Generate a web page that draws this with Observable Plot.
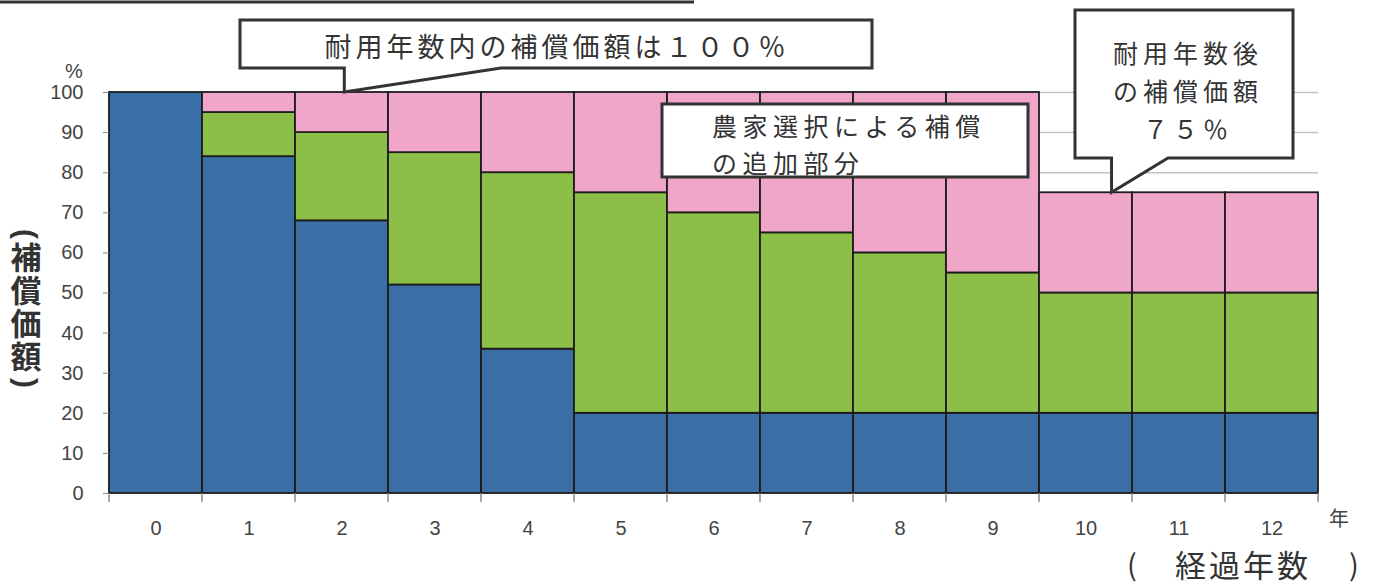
<!DOCTYPE html>
<html><head><meta charset="utf-8">
<script src="https://cdn.jsdelivr.net/npm/d3@7"></script>
<script src="https://cdn.jsdelivr.net/npm/@observablehq/plot@0.6"></script>
<style>
html,body{margin:0;padding:0;background:#fff;}
#wrap{position:relative;width:1375px;height:584px;overflow:hidden;}
#wrap svg{display:block;}
#overlay{position:absolute;left:0;top:0;}
</style>
</head><body>
<div id="wrap"></div>
<script>
// ---- data ----
const years = [0,1,2,3,4,5,6,7,8,9,10,11,12];
const basePart   = [100,84,68,52,36,20,20,20,20,20,20,20,20];
const extraPart  = [0,11,22,33,44,55,50,45,40,35,30,30,30];
const choicePart = [0,5,10,15,20,25,30,35,40,45,25,25,25];
const seriesNames = ["基本補償","時価上乗せ","農家選択による補償の追加部分"];
const seriesColors = ["#3a6ea6","#8cbf47","#f0a6c8"];
const yTicks = [0,10,20,30,40,50,60,70,80,90,100];
const calloutTexts = {
  inLife: "耐用年数内の補償価額は１００％",
  choice: ["農家選択による補償","の追加部分"],
  afterLife: ["耐用年数後","の補償価額","７５％"]
};
const yTitle = "補償価額";
const xTitle = "経過年数";
const xUnit = "年";
const yUnit = "%";

// ---- table ----
const seriesValues = [basePart, extraPart, choicePart];
const rows = [];
years.forEach((yr, i) => {
  seriesValues.forEach((vals, s) => {
    if (vals[i] > 0) rows.push({year: yr, series: seriesNames[s], value: vals[i]});
  });
});

const jp = "'Noto Sans CJK JP','Noto Sans',sans-serif";

const bandTicks = (index, scales, values, dims) => {
  const x = scales.x, y = scales.y;
  const bw = x(years[1]) - x(years[0]);
  const edges = years.map(v => x(v)).concat([x(years[years.length-1]) + bw]);
  const y0 = y(0);
  const g = d3.create("svg:g").attr("stroke","#8a8a8a").attr("stroke-width",1.5);
  edges.forEach(e => g.append("line").attr("x1",e).attr("x2",e).attr("y1",y0).attr("y2",y0+9));
  return g.node();
};

const plot = Plot.plot({
  width: 1375, height: 584,
  marginLeft: 109, marginRight: 57, marginTop: 92, marginBottom: 91,
  x: {type: "band", domain: years, padding: 0, label: null},
  y: {domain: [0, 100], label: null},
  color: {domain: seriesNames, range: seriesColors},
  style: {fontFamily: "'Liberation Sans',Arial,sans-serif", fontSize: "20px", color: "#444", background: "transparent"},
  marks: [
    Plot.gridY(yTicks.filter(t => t > 0), {stroke: "#c2c2c2", strokeOpacity: 1, strokeWidth: 1.5}),
    Plot.barY(rows, {x: "year", y: "value", fill: "series", stroke: "#1c1c1c", strokeWidth: 1.8, order: seriesNames}),
    Plot.axisY(yTicks, {tickSize: 6, tickPadding: 20, stroke: "#8a8a8a", fill: "#444", fontSize: 20, label: null}),
    Plot.axisX({tickSize: 0, tickPadding: 27, fill: "#444", fontSize: 20, label: null}),
    bandTicks
  ]
});
document.getElementById("wrap").appendChild(plot);

// ---- annotations, anchored with the plot's scales ----
const sx = plot.scale("x"), sy = plot.scale("y");
const bw = sx.bandwidth;
const ns = "http://www.w3.org/2000/svg";
const ov = d3.select("#wrap").append("svg").attr("id","overlay")
  .attr("width",1375).attr("height",584).attr("xmlns",ns);

// top frame remnant
ov.append("line").attr("x1",0).attr("x2",694).attr("y1",2).attr("y2",2)
  .attr("stroke","#333").attr("stroke-width",3);

function callout(l, t, r, b, tail) {
  let d = `M${l},${t}H${r}V${b}`;
  if (tail) d += `H${tail.x2}L${tail.tx},${tail.ty}V${b}`;
  d += `H${l}Z`;
  ov.append("path").attr("d", d).attr("fill","#fff").attr("stroke","#333")
    .attr("stroke-width",3).attr("stroke-linejoin","miter");
}

// callout 1
const t1x = sx.apply(2) + bw * 0.53, t1y = sy.apply(100);
callout(240, 20, 872, 68, {x2: 501, tx: t1x, ty: t1y});
ov.append("text").attr("x",557).attr("y",45).attr("text-anchor","middle")
  .attr("dominant-baseline","central").attr("font-family",jp).attr("font-size",27)
  .attr("letter-spacing",4).attr("fill","#333").text(calloutTexts.inLife);

// callout 2
callout(662, 104, 1028, 177, null);
calloutTexts.choice.forEach((s, i) => {
  ov.append("text").attr("x",712).attr("y",125 + i*37).attr("dominant-baseline","central")
    .attr("font-family",jp).attr("font-size",25).attr("letter-spacing",5.5)
    .attr("fill","#333").text(s);
});

// callout 3
const t3x = sx.apply(10) + bw * 0.78, t3y = sy.apply(75);
callout(1075, 10, 1293, 158, {x2: 1168, tx: t3x, ty: t3y});
calloutTexts.afterLife.forEach((s, i) => {
  ov.append("text").attr("x",1188).attr("y",52 + i*38).attr("text-anchor","middle")
    .attr("dominant-baseline","central").attr("font-family",jp).attr("font-size",25)
    .attr("letter-spacing",5).attr("fill","#333").text(s);
});

// y unit and title
ov.append("text").attr("x",74).attr("y",71).attr("text-anchor","middle")
  .attr("dominant-baseline","central").attr("font-family","'Liberation Sans',Arial,sans-serif")
  .attr("font-size",20).attr("fill","#444").text(yUnit);
ov.append("text").attr("x",26).attr("y",234).attr("text-anchor","middle")
  .attr("dominant-baseline","central").attr("font-family","'Liberation Sans',Arial,sans-serif").attr("font-size",30)
  .attr("font-weight","bold").attr("fill","#333").attr("transform","rotate(90,26,234)").text("(");
ov.append("text").attr("x",26).attr("y",242)
  .attr("style","writing-mode: vertical-rl; text-orientation: upright;")
  .attr("font-family",jp).attr("font-size",31).attr("letter-spacing",2)
  .attr("font-weight","bold").attr("fill","#333").text(yTitle);
ov.append("text").attr("x",26).attr("y",383).attr("text-anchor","middle")
  .attr("dominant-baseline","central").attr("font-family","'Liberation Sans',Arial,sans-serif").attr("font-size",30)
  .attr("font-weight","bold").attr("fill","#333").attr("transform","rotate(90,26,383)").text(")");

// x unit and title
ov.append("text").attr("x",1339).attr("y",517).attr("text-anchor","middle")
  .attr("dominant-baseline","central").attr("font-family",jp).attr("font-size",20)
  .attr("fill","#444").text(xUnit);
ov.append("text").attr("x",1132).attr("y",563).attr("text-anchor","middle")
  .attr("dominant-baseline","central").attr("font-family",jp).attr("font-size",29)
  .attr("fill","#333").text("(");
ov.append("text").attr("x",1243).attr("y",563).attr("text-anchor","middle")
  .attr("dominant-baseline","central").attr("font-family",jp).attr("font-size",31)
  .attr("letter-spacing",3).attr("fill","#333").text(xTitle);
ov.append("text").attr("x",1354).attr("y",563).attr("text-anchor","middle")
  .attr("dominant-baseline","central").attr("font-family",jp).attr("font-size",29)
  .attr("fill","#333").text(")");
</script>
</body></html>
